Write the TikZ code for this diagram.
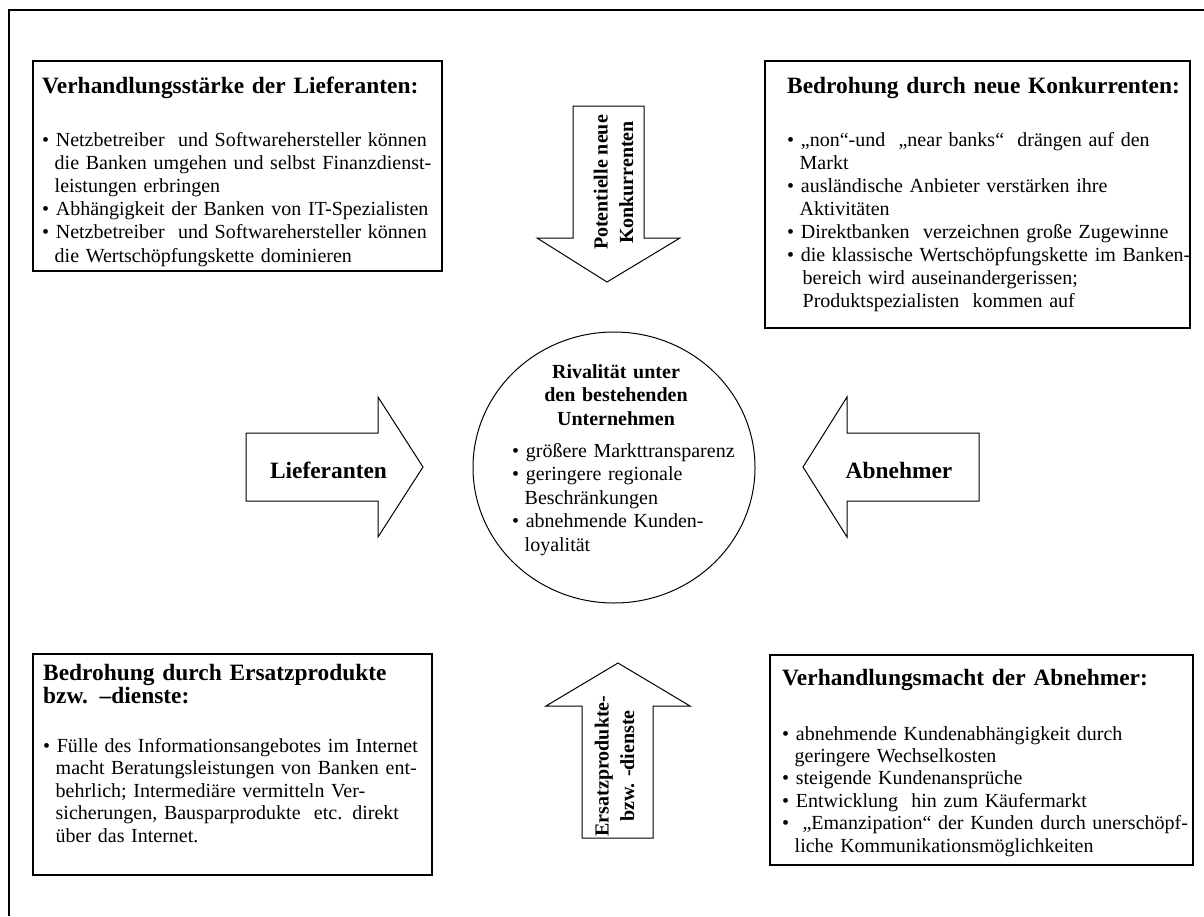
\documentclass[tikz,border=0pt]{standalone}
\usepackage{fontspec}
\setmainfont{Liberation Serif}
\usetikzlibrary{shapes.geometric}

% bullet at the start of an item, indent for its continuation lines
\newcommand\bul{\textbullet\ }
\newcommand\ind{\hspace*{12.5pt}}

\tikzset{
  frame/.style={draw=black, line width=1.6pt},
  panel/.style={draw=black, line width=1.1pt, fill=white, anchor=north west,
                inner sep=0pt, outer sep=0pt},
  blockarrow/.style={draw=black, line width=1pt, fill=white, line join=miter},
  head/.style={font=\fontsize{23.4}{23.5}\selectfont\bfseries, inner sep=0pt,
               anchor=base west, text width=420pt, align=left},
  body/.style={font=\fontsize{20}{23.2}\selectfont, inner sep=0pt,
               anchor=base west, text width=430pt, align=left},
  tag/.style={font=\fontsize{23.4}{26}\selectfont\bfseries, inner sep=0pt,
              anchor=base},
  vtag/.style={font=\fontsize{20}{25.5}\selectfont\bfseries, inner sep=0pt,
               rotate=90, align=center},
  ctitle/.style={font=\fontsize{20}{23.5}\selectfont\bfseries, inner sep=0pt,
                 anchor=base, text width=220pt, align=center},
}

\begin{document}
\begin{tikzpicture}[x=1pt, y=-1pt]
  \useasboundingbox (0,0) rectangle (1204,916);

  % outer frame (only its left and top edges fall on the page)
  \coordinate (frameBL) at (9,916);
  \coordinate (frameTL) at (9,10);
  \coordinate (frameTR) at (1204,10);
  \draw[frame] (frameBL) -- (frameTL) -- (frameTR);

  % ---------- the four text panels ----------
  \node[panel, minimum width=409pt, minimum height=210pt] (supBox) at (33,61) {};
  \node[head] (supHead) at (42,93) {Verhandlungsstärke der Lieferanten:};
  \node[body] (supText) at (42,146) {%
    \bul Netzbetreiber\ \ und Softwarehersteller können\\
    \ind die Banken umgehen und selbst Finanzdienst-\\
    \ind leistungen erbringen\\
    \bul Abhängigkeit der Banken von IT-Spezialisten\\
    \bul Netzbetreiber\ \ und Softwarehersteller können\\
    \ind die Wertschöpfungskette dominieren};

  \node[panel, minimum width=425pt, minimum height=267pt] (entBox) at (765,61) {};
  \node[head] (entHead) at (787,93) {Bedrohung durch neue Konkurrenten:};
  \node[body, font=\fontsize{20}{23}\selectfont] (entText) at (787,146) {%
    \bul „non“-und\ \ „near banks“\ \ drängen auf den\\
    \ind Markt\\
    \bul ausländische Anbieter verstärken ihre\\
    \ind Aktivitäten\\
    \bul Direktbanken\ \ verzeichnen große Zugewinne\\
    \bul die klassische Wertschöpfungskette im Banken-\\
    \ind\hspace*{3pt}bereich wird auseinandergerissen;\\
    \ind\hspace*{3pt}Produktspezialisten\ \ kommen auf};

  \node[panel, minimum width=399pt, minimum height=221pt] (subBox) at (33,654) {};
  \node[head] (subHead) at (43,680) {Bedrohung durch Ersatzprodukte\\bzw. –dienste:};
  \node[body, font=\fontsize{20}{22.5}\selectfont] (subText) at (43,752) {%
    \bul Fülle des Informationsangebotes im Internet\\
    \ind macht Beratungsleistungen von Banken ent-\\
    \ind behrlich; Intermediäre vermitteln Ver-\\
    \ind sicherungen, Bausparprodukte\ \ etc. direkt\\
    \ind über das Internet.};

  \node[panel, minimum width=423pt, minimum height=210pt] (buyBox) at (770,655) {};
  \node[head] (buyHead) at (782,685) {Verhandlungsmacht der Abnehmer:};
  \node[body, font=\fontsize{20}{22.4}\selectfont] (buyText) at (782,740) {%
    \bul abnehmende Kundenabhängigkeit durch\\
    \ind geringere Wechselkosten\\
    \bul steigende Kundenansprüche\\
    \bul Entwicklung\ \ hin zum Käufermarkt\\
    \textbullet\ \ „Emanzipation“ der Kunden durch unerschöpf-\\
    \ind liche Kommunikationsmöglichkeiten};

  % ---------- central rivalry ----------
  \node[draw=black, line width=1pt, ellipse, inner sep=0pt,
        minimum width=282pt, minimum height=271pt] (rival) at (614,467.5) {};
  \node[ctitle] (rivalHead) at (616,378) {Rivalität unter\\den bestehenden\\Unternehmen};
  \node[body, font=\fontsize{20}{23.5}\selectfont] (rivalText) at (512,457) {%
    \bul größere Markttransparenz\\
    \bul geringere regionale\\
    \ind Beschränkungen\\
    \bul abnehmende Kunden-\\
    \ind loyalität};

  % ---------- block arrows ----------
  % new entrants, pointing down
  \draw[blockarrow] (573,106) -- (644,106) -- (644,238) -- (680,238)
    -- (607,282) -- (537,238) -- (573,238) -- cycle;
  \node[vtag] (entArrow) at (613.5,182.5) {Potentielle neue\\Konkurrenten};

  % substitutes, pointing up
  \draw[blockarrow] (582,838) -- (653,838) -- (653,706) -- (690,706)
    -- (618,663) -- (546,706) -- (582,706) -- cycle;
  \node[vtag] (subArrow) at (614.5,766) {Ersatzprodukte-\\bzw. -dienste};

  % suppliers, pointing right
  \draw[blockarrow] (246,433) -- (378,433) -- (378,397) -- (423,467)
    -- (378,537) -- (378,501) -- (246,501) -- cycle;
  \node[tag] (supArrow) at (328.5,478) {Lieferanten};

  % buyers, pointing left
  \draw[blockarrow] (979,433) -- (847,433) -- (847,397) -- (803,467)
    -- (847,537) -- (847,501) -- (979,501) -- cycle;
  \node[tag] (buyArrow) at (899,478) {Abnehmer};
\end{tikzpicture}
\end{document}
